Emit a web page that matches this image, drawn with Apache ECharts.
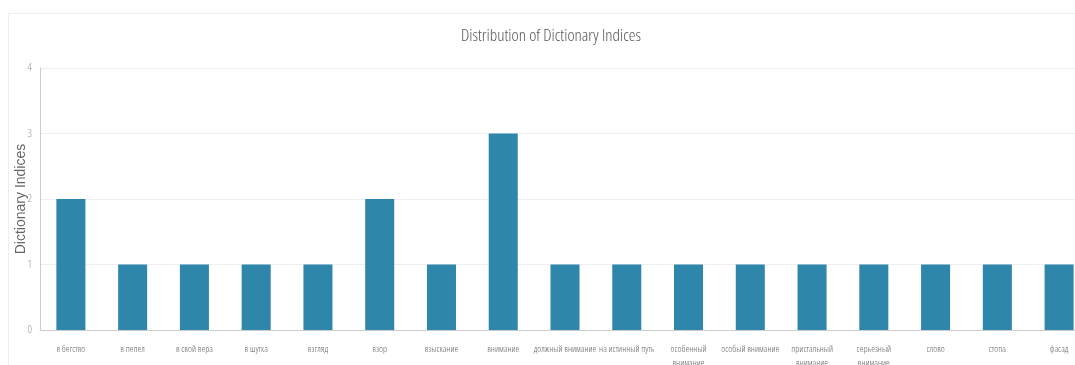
<!DOCTYPE html>
<html>
<head>
<meta charset="utf-8">
<script src="https://cdn.jsdelivr.net/npm/echarts@6/dist/echarts.min.js"></script>
<style>
  html, body { margin: 0; padding: 0; width: 1075px; height: 365px; overflow: hidden; background: #fff; }
  #card { position: absolute; left: 8px; top: 13px; width: 1090px; height: 360px; border: 1px solid #eeeeee; box-sizing: border-box; }
  #chart { position: absolute; left: 8px; top: 13px; width: 1086px; height: 352px; }
</style>
</head>
<body>
<div id="card"></div>
<div id="chart"></div>
<script>
const categories = ['в бегство', 'в пепел', 'в свой вера', 'в шутка', 'взгляд', 'взор', 'взыскание', 'внимание', 'должный внимание', 'на истинный путь', 'особенный внимание', 'особый внимание', 'пристальный внимание', 'серьезный внимание', 'слово', 'стопа', 'фасад'];
const values = [2, 1, 1, 1, 1, 2, 1, 3, 1, 1, 1, 1, 1, 1, 1, 1, 1];
const yTicks = [0, 1, 2, 3, 4];
const titleText = 'Distribution of Dictionary Indices';
const yName = 'Dictionary Indices';

const cond = '"Open Sans", sans-serif';
const chart = echarts.init(document.getElementById('chart'), null, { renderer: 'canvas' });
chart.setOption({
  animation: false,
  title: {
    text: titleText, left: 'center', top: 10,
    textStyle: { color: '#555', fontFamily: cond, fontStyle: 'condensed', fontWeight: 300, fontSize: 17 }
  },
  grid: { left: 32, right: 4, top: 55, bottom: 35, outerBoundsMode: 'none', containLabel: false },
  xAxis: {
    type: 'category',
    data: categories,
    axisLine: { show: true, lineStyle: { color: '#ccc' } },
    axisTick: { show: false },
    axisLabel: {
      interval: 0, color: '#666', fontFamily: cond, fontStyle: 'condensed', fontWeight: 300, fontSize: 9.5, margin: 12, lineHeight: 14,
      formatter: v => v.length > 16 ? v.replace(' ', '\n') : v
    }
  },
  yAxis: {
    type: 'value',
    min: yTicks[0], max: yTicks[yTicks.length - 1], interval: 1,
    name: yName, nameLocation: 'middle', nameGap: 12, nameMoveOverlap: false,
    nameTextStyle: { color: '#666', fontSize: 14, fontFamily: '"Liberation Sans", Arial, sans-serif' },
    axisLine: { show: true, lineStyle: { color: '#ccc' } },
    axisTick: { show: false },
    axisLabel: { color: '#999', fontFamily: cond, fontStyle: 'condensed', fontWeight: 300, fontSize: 11, margin: 8 },
    splitLine: { lineStyle: { color: '#eee' } }
  },
  series: [{
    type: 'bar',
    data: values,
    barWidth: '47%',
    itemStyle: { color: '#2E86AB' }
  }]
});
</script>
</body>
</html>
